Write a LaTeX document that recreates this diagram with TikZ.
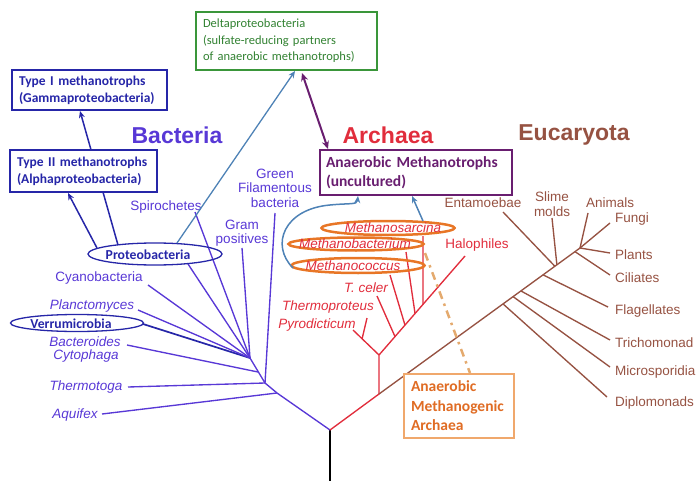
\documentclass[tikz,border=0pt]{standalone}
\usepackage{fontspec}
\setmainfont{Liberation Sans}
\newfontfamily\calfont{Carlito}
\usetikzlibrary{shapes.geometric,arrows.meta,calc}
\definecolor{bacblue}{RGB}{88,56,214}
\definecolor{dkblue}{RGB}{38,38,168}
\definecolor{archred}{RGB}{225,45,60}
\definecolor{eucbrown}{RGB}{150,82,66}
\definecolor{boxgreen}{RGB}{58,150,58}
\definecolor{txtgreen}{RGB}{50,130,50}
\definecolor{dkpurple}{RGB}{105,30,112}
\definecolor{orangeE}{RGB}{232,118,38}
\definecolor{orangeT}{RGB}{224,108,36}
\definecolor{orangeB}{RGB}{240,168,108}
\definecolor{orangeD}{RGB}{228,170,110}
\definecolor{steel}{RGB}{78,130,182}
\begin{document}
\begin{tikzpicture}[x=1pt,y=-1pt,
  bline/.style={draw=bacblue,line width=1.35pt},
  aline/.style={draw=archred,line width=1.35pt},
  eline/.style={draw=eucbrown,line width=1.35pt},
  blab/.style={text=bacblue,font=\fontsize{13.5}{14.5}\selectfont,inner sep=0pt,align=center},
  alab/.style={text=archred,font=\fontsize{13.5}{15}\selectfont\itshape,inner sep=0pt},
  elab/.style={text=eucbrown,font=\fontsize{13.5}{14.5}\selectfont,inner sep=0pt,align=center},
  title/.style={font=\fontsize{23}{25}\selectfont\bfseries,inner sep=0pt},
  infobox/.style={draw,line width=1.2pt,fill=white,align=left,inner xsep=7pt,inner ysep=0pt},
  oell/.style={draw=orangeE,line width=2.5pt,ellipse,inner sep=0pt},
  bell/.style={draw=dkblue,line width=1.3pt,ellipse,inner sep=0pt},
  earrow/.style={-{Stealth[length=7pt,width=6pt]}},
]
\useasboundingbox (0,0) rectangle (698,481);

% ---------- titles ----------
\node[title,text=bacblue] (tbac) at (177,135) {Bacteria};
\node[title,text=archred] (tarc) at (388,135) {Archaea};
\node[title,text=eucbrown] (teuc) at (574,135) {Eucaryota};

% ---------- root ----------
\coordinate (root) at (330,430);
\coordinate (base) at (330,481);
\draw[black,line width=1.5pt] (root) -- (base);

% ---------- Bacteria tree ----------
\coordinate (b1) at (277,393);
\coordinate (b2) at (265,383);
\coordinate (b3) at (250,358);
\coordinate (b4) at (258,372);
\draw[bline] (root) -- (b1) -- (b2) -- (b3);

\node[blab,font=\fontsize{13.5}{14.5}\selectfont\itshape] (aqui) at (75,415) {Aquifex};
\node[blab,font=\fontsize{13.5}{14.5}\selectfont\itshape] (thermo) at (86,387) {Thermotoga};
\node[blab,font=\fontsize{13.5}{14.5}\selectfont\itshape] (bact) at (85,342) {Bacteroides};
\node[blab,font=\fontsize{13.5}{14.5}\selectfont\itshape] (cyto) at (86,356) {Cytophaga};
\node[blab,font=\fontsize{13.5}{14.5}\selectfont\itshape] (planc) at (92,306) {Planctomyces};
\node[blab] (cyano) at (99,278) {Cyanobacteria};
\node[blab] (spiro) at (166,207) {Spirochetes};
\node[blab] (gram) at (242,233) {Gram\\positives};
\node[blab] (green) at (275,188) {Green\\Filamentous\\bacteria};

\coordinate (aquiE) at (102,414);
\coordinate (thermoE) at (128,387);
\coordinate (bactE) at (127,345);
\coordinate (verruE) at (143,324);
\coordinate (plancE) at (138,310);
\coordinate (cyanoE) at (148,285);
\coordinate (proteoE) at (188,264);
\coordinate (spiroE) at (195,212);
\coordinate (gramE) at (242,248);
\coordinate (greenE) at (275,213);

\draw[bline] (b1) -- (aquiE);
\draw[bline] (b2) -- (thermoE);
\draw[bline] (b4) -- (bactE);
\draw[draw=dkblue,line width=1.7pt] (b3) -- (verruE);
\draw[bline] (b3) -- (plancE);
\draw[bline] (b3) -- (cyanoE);
\draw[bline] (b3) -- (proteoE);
\draw[bline] (b3) -- (spiroE);
\draw[bline] (b3) -- (gramE);
\draw[bline] (b2) -- (greenE);

% ellipses for Verrumicrobia and Proteobacteria
\node[bell,minimum width=133pt,minimum height=17pt] (verru) at (77,323) {};
\node[text=dkblue,font=\calfont\fontsize{13.7}{15}\selectfont\bfseries,inner sep=0pt] (verruT) at (71,324) {Verrumicrobia};
\node[bell,minimum width=134pt,minimum height=22pt] (proteo) at (155,254) {};
\node[text=dkblue,font=\calfont\fontsize{13.7}{15}\selectfont\bfseries,inner sep=0pt] (proteoT) at (148,255) {Proteobacteria};

% ---------- boxes ----------
\coordinate (p1) at (118,245);
\coordinate (p2) at (97,248);
\coordinate (p3) at (177,243);
\node[infobox,draw=dkblue,text=dkblue,minimum width=155pt,minimum height=40pt,text width=141pt,
  font=\calfont\fontsize{13.5}{17}\selectfont\bfseries] (type1) at (89.5,90)
  {Type I methanotrophs\\(Gammaproteobacteria)};
\draw[draw=dkblue,line width=1.5pt,earrow] (p1) -- (80,111);
\node[infobox,draw=dkblue,text=dkblue,minimum width=147pt,minimum height=42pt,text width=133pt,
  font=\calfont\fontsize{13.5}{17}\selectfont\bfseries] (type2) at (83.5,171)
  {Type II methanotrophs\\(Alphaproteobacteria)};
\draw[draw=dkblue,line width=1.5pt,earrow] (p2) -- (68,193);

\node[infobox,draw=boxgreen,text=txtgreen,minimum width=181pt,minimum height=58pt,text width=167pt,
  font=\calfont\fontsize{12.5}{16.5}\selectfont] (delta) at (286.5,41)
  {Deltaproteobacteria\\(sulfate-reducing partners\\of anaerobic methanotrophs)};
\draw[draw=steel,line width=1.3pt,earrow] (p3) -- (295,71);

\node[infobox,draw=dkpurple,text=dkpurple,minimum width=192pt,minimum height=45pt,text width=180pt,inner xsep=6pt,
  font=\calfont\fontsize{15.5}{19}\selectfont\bfseries] (anmeth) at (416,172.5)
  {Anaerobic Methanotrophs\\(uncultured)};
\draw[draw=dkpurple,line width=2pt,{Stealth[length=8pt,width=7pt]}-{Stealth[length=8pt,width=7pt]}] (302,73) -- (328,149);

% ---------- Archaea tree ----------
\coordinate (a1) at (379,394);
\coordinate (a2) at (379,355);
\coordinate (pyroE) at (353,330);
\coordinate (thprE) at (367,318);
\coordinate (haloE) at (465,256);
\draw[aline] (root) -- (a1) -- (a2);
\draw[aline] (a2) -- (pyroE);
\draw[aline] ($(a2)!0.65!(pyroE)$) -- (thprE);
\draw[aline] (a2) -- (haloE);
\coordinate (celerE) at (377,296);
\coordinate (mcocE) at (390,275);
\coordinate (mbacE) at (406,252);
\coordinate (msarE) at (423,236);
\draw[aline] ($(a2)!0.186!(haloE)$) -- (celerE);
\draw[aline] ($(a2)!0.302!(haloE)$) -- (mcocE);
\draw[aline] ($(a2)!0.419!(haloE)$) -- (mbacE);
\draw[aline] ($(a2)!0.512!(haloE)$) -- (msarE);

\node[alab] (pyro) at (317,325) {Pyrodicticum};
\node[alab] (thpr) at (328,307) {Thermoproteus};
\node[alab] (celer) at (366,288) {T. celer};
\node[alab,font=\fontsize{13.5}{15}\selectfont] (halo) at (477,245) {Halophiles};

\node[oell,minimum width=133pt,minimum height=14pt] (msar) at (388,228) {};
\node[alab] (msarT) at (393,228) {Methanosarcina};
\node[oell,minimum width=135pt,minimum height=13pt] (mbac) at (356,244) {};
\node[alab] (mbacT) at (355,244) {Methanobacterium};
\node[oell,minimum width=133pt,minimum height=15pt] (mcoc) at (358,265.5) {};
\node[alab] (mcocT) at (353,265.5) {Methanococcus};

% steel-blue arrows to Anaerobic Methanotrophs
\coordinate (mcocW) at (293,268);
\coordinate (msarN) at (423,221);
\draw[draw=steel,line width=1.5pt,earrow] (mcocW) .. controls (270,245) and (284,209) .. (330,205) .. controls (350,203) and (357,205) .. (358,196);
\draw[draw=steel,line width=1.5pt,earrow] (msarN) -- (412,196);

% ---------- Eucaryota tree ----------
\coordinate (eB) at (580,248);
\draw[eline] (a1) -- (eB);
\node[elab,anchor=west] (diplo) at (615,403) {Diplomonads};
\node[elab,anchor=west] (micro) at (615,372) {Microsporidia};
\node[elab,anchor=west] (tricho) at (615,343) {Trichomonad};
\node[elab,anchor=west] (flag) at (615,311) {Flagellates};
\node[elab,anchor=west] (cili) at (615,278) {Ciliates};
\node[elab,anchor=west] (plant) at (615,255) {Plants};
\node[elab,anchor=west] (fungi) at (615,219) {Fungi};
\node[elab] (anim) at (610,203) {Animals};
\node[elab] (slime) at (552,204) {Slime\\molds};
\node[elab] (ent) at (483,203) {Entamoebae};

\coordinate (diploE) at (607,397);
\coordinate (microE) at (610,367);
\coordinate (trichoE) at (610,340);
\coordinate (flagE) at (608,307);
\coordinate (ciliE) at (610,275);
\coordinate (plantE) at (610,253);
\coordinate (fungiE) at (610,223);
\coordinate (animE) at (588,213);
\coordinate (slimeE) at (552,218);
\coordinate (entE) at (503,212);
\draw[eline] ($(a1)!0.617!(eB)$) -- (diploE);
\draw[eline] ($(a1)!0.667!(eB)$) -- (microE);
\draw[eline] ($(a1)!0.706!(eB)$) -- (trichoE);
\draw[eline] ($(a1)!0.816!(eB)$) -- (flagE);
\draw[eline] ($(a1)!0.975!(eB)$) -- (ciliE);
\draw[eline] ($(a1)!0.885!(eB)$) -- (slimeE);
\draw[eline] ($(a1)!0.875!(eB)$) -- (entE);
\draw[eline] (eB) -- (plantE);
\draw[eline] (eB) -- (fungiE);
\draw[eline] (eB) -- (animE);

% ---------- Anaerobic Methanogenic Archaea ----------
\node[infobox,draw=orangeB,text=orangeT,minimum width=110pt,minimum height=64pt,text width=96pt,
  font=\calfont\fontsize{15.5}{19.5}\selectfont\bfseries] (ama) at (459,406)
  {Anaerobic\\Methanogenic\\Archaea};
\coordinate (dashS) at (425,253);
\coordinate (dashT) at (470,373);
\draw[draw=orangeD,line width=2.5pt,dash pattern=on 8pt off 5pt on 2.5pt off 5pt] (dashS) -- (dashT);
\end{tikzpicture}
\end{document}
